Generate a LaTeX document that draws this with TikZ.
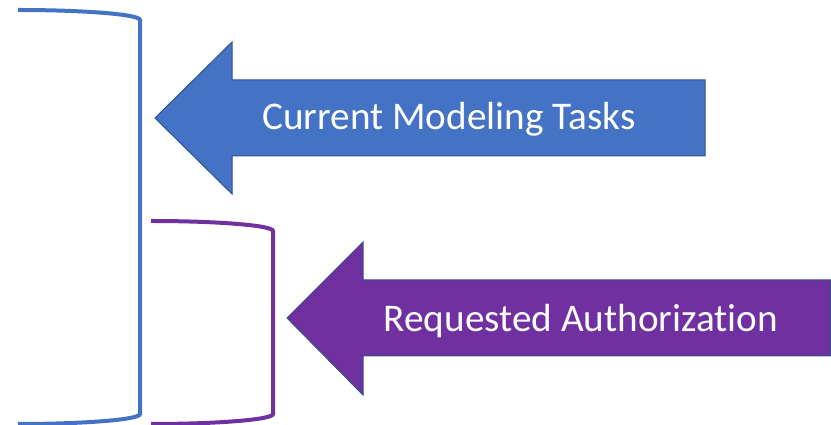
\documentclass[tikz,border=0pt]{standalone}
\usepackage{fontspec}
\setmainfont{Carlito}[Ligatures=NoCommon]
\definecolor{accblue}{HTML}{4472C4}
\definecolor{accpurple}{HTML}{7030A0}
\definecolor{edgeblue}{HTML}{2F528F}
\begin{document}
\begin{tikzpicture}[x=1pt,y=1pt,
  brace/.style={line width=4pt},
  bigarrow/.style={draw=edgeblue,line width=1pt,line join=miter},
  label/.style={text=white,anchor=base,inner sep=0pt,font=\fontsize{39.2}{46}\selectfont}]
\useasboundingbox (0,0) rectangle (831,425);
% brackets
 \draw [brace,accblue] (18,415) arc [start angle=90,end angle=0,x radius=122,y radius=10]
   -- (140,11) arc [start angle=0,end angle=-90,x radius=122,y radius=10];
 \draw [brace,accpurple] (151,204) arc [start angle=90,end angle=0,x radius=122,y radius=10]
   -- (273,11) arc [start angle=0,end angle=-90,x radius=122,y radius=10];
% arrows
 \filldraw [bigarrow,fill=accblue] (155,307) -- (232,383) -- (232,345) -- (705,345)
   -- (705,269) -- (232,269) -- (232,231) -- cycle;
 \filldraw [bigarrow,fill=accpurple] (287,107) -- (363,183) -- (363,145) -- (830.5,145)
   -- (830.5,69) -- (363,69) -- (363,30) -- cycle;
 \node[label](tasks) at (449,295){Current Modeling Tasks};
 \node[label](auth) at (581,93){Requested Authorization};
\end{tikzpicture}
\end{document}
